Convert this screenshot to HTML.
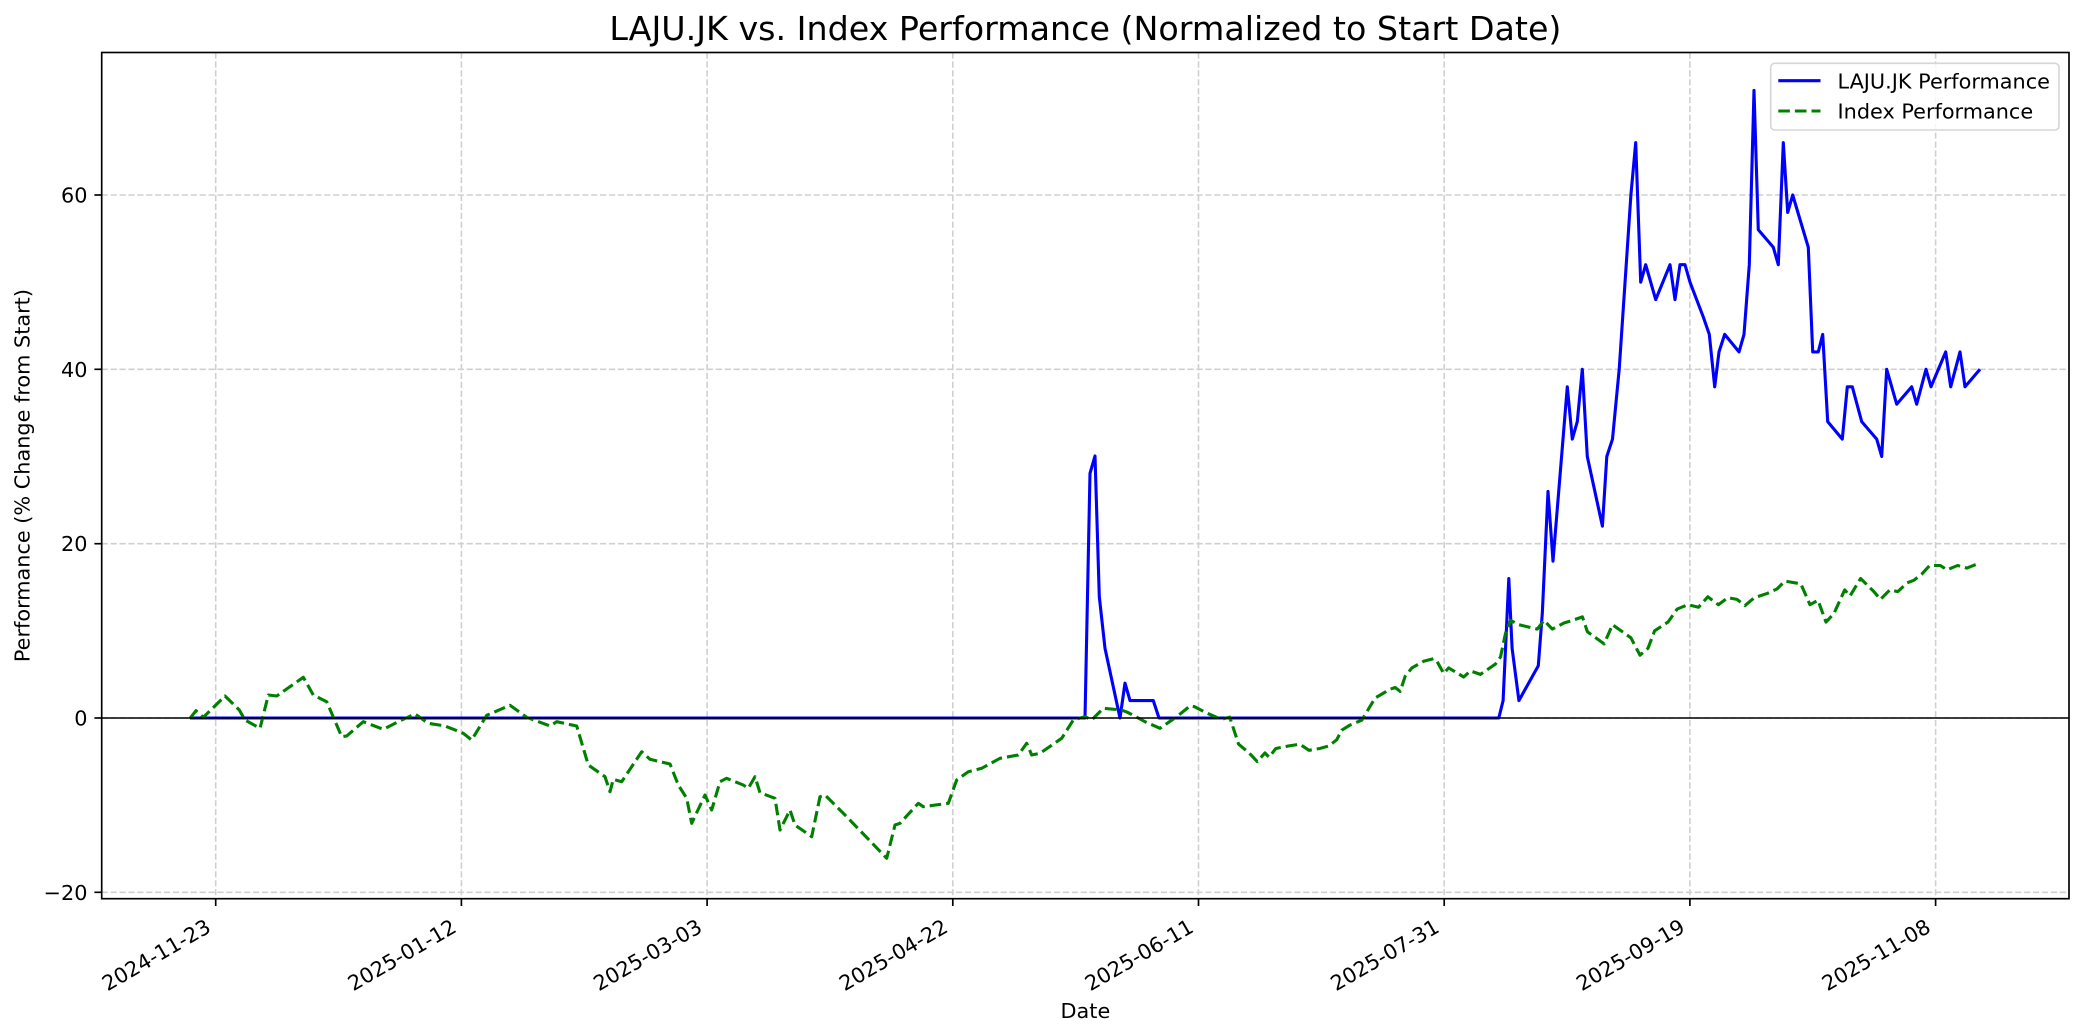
<!DOCTYPE html>
<html>
<head>
<meta charset="utf-8">
<style>
  html, body { margin: 0; padding: 0; background: #ffffff; }
  svg { display: block; }
  text { font-family: "DejaVu Sans", "Liberation Sans", sans-serif; fill: #000; }
</style>
</head>
<body>
<svg width="2084" height="1035" viewBox="0 0 2084 1035" xmlns="http://www.w3.org/2000/svg">
  <defs>
    <clipPath id="ax">
      <rect x="101.7" y="52.5" width="1967.3" height="846.2"/>
    </clipPath>
  </defs>
  <rect x="0" y="0" width="2084" height="1035" fill="#ffffff"/>

  <!-- Grid -->
  <g stroke="#d0d0d0" stroke-width="1.6" stroke-dasharray="6.2 2.7" fill="none">
    <line x1="215.7" y1="52.5" x2="215.7" y2="898.7"/>
    <line x1="461.4" y1="52.5" x2="461.4" y2="898.7"/>
    <line x1="707.1" y1="52.5" x2="707.1" y2="898.7"/>
    <line x1="952.8" y1="52.5" x2="952.8" y2="898.7"/>
    <line x1="1198.5" y1="52.5" x2="1198.5" y2="898.7"/>
    <line x1="1444.2" y1="52.5" x2="1444.2" y2="898.7"/>
    <line x1="1689.9" y1="52.5" x2="1689.9" y2="898.7"/>
    <line x1="1935.6" y1="52.5" x2="1935.6" y2="898.7"/>
    <line x1="101.7" y1="892.3" x2="2069" y2="892.3"/>
    <line x1="101.7" y1="718" x2="2069" y2="718"/>
    <line x1="101.7" y1="543.7" x2="2069" y2="543.7"/>
    <line x1="101.7" y1="369.3" x2="2069" y2="369.3"/>
    <line x1="101.7" y1="195" x2="2069" y2="195"/>
  </g>

  <g clip-path="url(#ax)">
    <!-- LAJU.JK -->
    <polyline fill="none" stroke="#0000ff" stroke-width="3.1" stroke-linejoin="round"
      points="190,718 1085,718 1090,473.3 1095,456 1099.3,596.7 1105,648.3 1120,718 1125,683.1 1130,700.6 1153.3,700.6 1159,718 1498.8,718 1503.1,700.6 1508.8,578.5 1512.1,648.3 1518.9,700.6 1538.3,665.7 1542.3,613.4 1548,491.4 1553,561.1 1567.3,386.8 1572.3,439.1 1577.3,421.6 1582.3,369.3 1587.3,456.5 1602.4,526.2 1606.8,456.5 1612.5,439.1 1619.2,369.3 1630.9,195 1635.7,142.7 1640.7,282.2 1645.7,264.7 1655.7,299.6 1670,264.7 1675,299.6 1680,264.7 1685,264.7 1690,282.2 1703.3,317 1709.3,334.4 1714.7,386.8 1719,351.9 1724.7,334.4 1739,351.9 1744,334.4 1749.3,264.7 1754,90.4 1758.3,229.8 1773.3,247.3 1778.3,264.7 1783.3,142.7 1787.7,212.4 1792.7,195 1808.3,247.3 1812.7,351.9 1818.3,351.9 1822.7,334.4 1827.7,421.6 1842.3,439.1 1847.3,386.8 1852.3,386.8 1861.7,421.6 1876.7,439.1 1881.7,456.5 1886.7,369.3 1896.7,404.2 1911.7,386.8 1916.7,404.2 1926,369.3 1931,386.8 1945.7,351.9 1950.7,386.8 1960,351.9 1965,386.8 1980,369.3"/>
    <!-- Index -->
    <polyline fill="none" stroke="#008000" stroke-width="3.1" stroke-linejoin="round" stroke-dasharray="11.6 5"
      points="190,718.3 196,710.7 203.3,717.3 225,696 239.3,710 245,720 260,728.3 268.3,695 276.7,696 303.3,677.3 313.3,695 326.7,701.7 341.7,736.7 346.7,736 363.3,721.7 383.3,729.3 401.7,720 415,714 428.3,723.3 445,726 463.3,733.3 471.7,740 486.7,715.3 510,705.3 526.7,717.3 550,726 556.7,721.7 576.7,726 588.3,765 605,776.7 610,791.7 613.3,779.3 621.7,781.7 641.7,751.7 650,759.3 670,764 678.3,785 686.7,798.3 691.7,823.3 705,795 711.7,810 720,781.7 726.7,778.3 743.3,785 748.3,788.3 755,776.7 760,792.7 775,798.3 780,830 790,810 795,825 811.7,836.7 820,796.7 825,795 846.7,816.7 886.7,858.3 895,825 900,823.3 918.3,803.3 923.3,806.7 948.3,803.3 956.7,780 968.3,771.7 981.7,768.3 1000,758.3 1018.3,755 1026.7,743.3 1031.7,755 1040,753.3 1061.7,738.3 1073.3,720 1085,716.7 1091.7,720 1103.3,708.3 1121.7,710 1128.3,712.7 1145,721.7 1160,728.3 1176.7,716.7 1190,706 1194.6,706.7 1206.3,712.8 1221.4,719.3 1229.7,717.1 1238.6,744.2 1249,752.9 1257.2,761.6 1265,752.9 1269,757.2 1275.8,748.5 1289,745.9 1299.8,744.2 1309,750.3 1319.7,748.5 1329,745.9 1336.7,739.8 1341.7,730.2 1350.1,725 1361.8,720.2 1375.1,698 1390.2,689.2 1395.2,687.5 1400.2,691.4 1405.2,676.2 1411.9,667.9 1423.6,661.3 1433.6,658.7 1437,661.3 1443.7,673.5 1448.7,667.9 1463.7,677 1470.4,670.9 1480.4,674.4 1495.5,664 1500.5,657 1505.5,633.4 1510.5,620.4 1518.9,624.7 1537.3,629.1 1544,620.4 1552.3,629.1 1564,623 1572.4,620.4 1582.4,616.9 1587.4,631.7 1604.1,643.9 1612.5,624.7 1630.9,637.8 1640,655.2 1648,648.3 1654.6,630.8 1668,622.1 1677.2,609 1687.8,604.7 1698.5,607.3 1707.8,596.8 1718.4,604.7 1727.7,597.7 1737,599.4 1745,605.6 1754.3,597.7 1767.6,593.3 1776.9,589 1784.8,581.1 1800.8,583.8 1810,604.7 1818,600.3 1826,622.1 1834,613.4 1844.7,589.9 1850,596 1860.6,578.5 1873.9,591.6 1880.5,599.4 1889.8,589.9 1897.8,591.6 1907.1,582.9 1913.8,580.3 1921.7,574.2 1929.7,565.5 1940.3,565.5 1947,569.8 1957.6,565.5 1966.9,568.1 1980,562.8"/>
    <!-- zero line -->
    <line x1="101.7" y1="718" x2="2069" y2="718" stroke="#000000" stroke-width="1.6"/>
  </g>

  <!-- Axes frame -->
  <rect x="101.7" y="52.5" width="1967.3" height="846.2" fill="none" stroke="#000000" stroke-width="1.67"/>

  <!-- Ticks -->
  <g stroke="#000000" stroke-width="1.67">
    <line x1="94.4" y1="892.3" x2="101.7" y2="892.3"/>
    <line x1="94.4" y1="718" x2="101.7" y2="718"/>
    <line x1="94.4" y1="543.7" x2="101.7" y2="543.7"/>
    <line x1="94.4" y1="369.3" x2="101.7" y2="369.3"/>
    <line x1="94.4" y1="195" x2="101.7" y2="195"/>
    <line x1="215.7" y1="898.7" x2="215.7" y2="906"/>
    <line x1="461.4" y1="898.7" x2="461.4" y2="906"/>
    <line x1="707.1" y1="898.7" x2="707.1" y2="906"/>
    <line x1="952.8" y1="898.7" x2="952.8" y2="906"/>
    <line x1="1198.5" y1="898.7" x2="1198.5" y2="906"/>
    <line x1="1444.2" y1="898.7" x2="1444.2" y2="906"/>
    <line x1="1689.9" y1="898.7" x2="1689.9" y2="906"/>
    <line x1="1935.6" y1="898.7" x2="1935.6" y2="906"/>
  </g>

  <!-- Y tick labels -->
  <g font-size="20.8" text-anchor="end">
    <text x="87.5" y="899.8">−20</text>
    <text x="87.5" y="725.5">0</text>
    <text x="87.5" y="551.2">20</text>
    <text x="87.5" y="376.8">40</text>
    <text x="87.5" y="202.5">60</text>
  </g>

  <!-- X tick labels -->
  <g font-size="20.8" text-anchor="end">
    <text transform="translate(212.2,931) rotate(-30)">2024-11-23</text>
    <text transform="translate(457.9,931) rotate(-30)">2025-01-12</text>
    <text transform="translate(703.6,931) rotate(-30)">2025-03-03</text>
    <text transform="translate(949.3,931) rotate(-30)">2025-04-22</text>
    <text transform="translate(1195,931) rotate(-30)">2025-06-11</text>
    <text transform="translate(1440.7,931) rotate(-30)">2025-07-31</text>
    <text transform="translate(1686.4,931) rotate(-30)">2025-09-19</text>
    <text transform="translate(1932.1,931) rotate(-30)">2025-11-08</text>
  </g>

  <!-- Axis labels -->
  <text x="1085.4" y="1018" font-size="20.8" text-anchor="middle">Date</text>
  <text transform="translate(29.5,475.6) rotate(-90)" font-size="20.8" text-anchor="middle">Performance (% Change from Start)</text>

  <!-- Title -->
  <text x="1085.4" y="40" font-size="33.3" text-anchor="middle">LAJU.JK vs. Index Performance (Normalized to Start Date)</text>

  <!-- Legend -->
  <rect x="1770.7" y="63.3" width="288.3" height="66.7" rx="4" ry="4" fill="#ffffff" fill-opacity="0.8" stroke="#d6d6d6" stroke-width="1.6"/>
  <line x1="1778.3" y1="80.7" x2="1820.5" y2="80.7" stroke="#0000ff" stroke-width="3.1"/>
  <line x1="1778.3" y1="111" x2="1820.5" y2="111" stroke="#008000" stroke-width="3.1" stroke-dasharray="11.6 5"/>
  <text x="1837.5" y="88.3" font-size="20.8">LAJU.JK Performance</text>
  <text x="1837.5" y="118.6" font-size="20.8">Index Performance</text>
</svg>
</body>
</html>
